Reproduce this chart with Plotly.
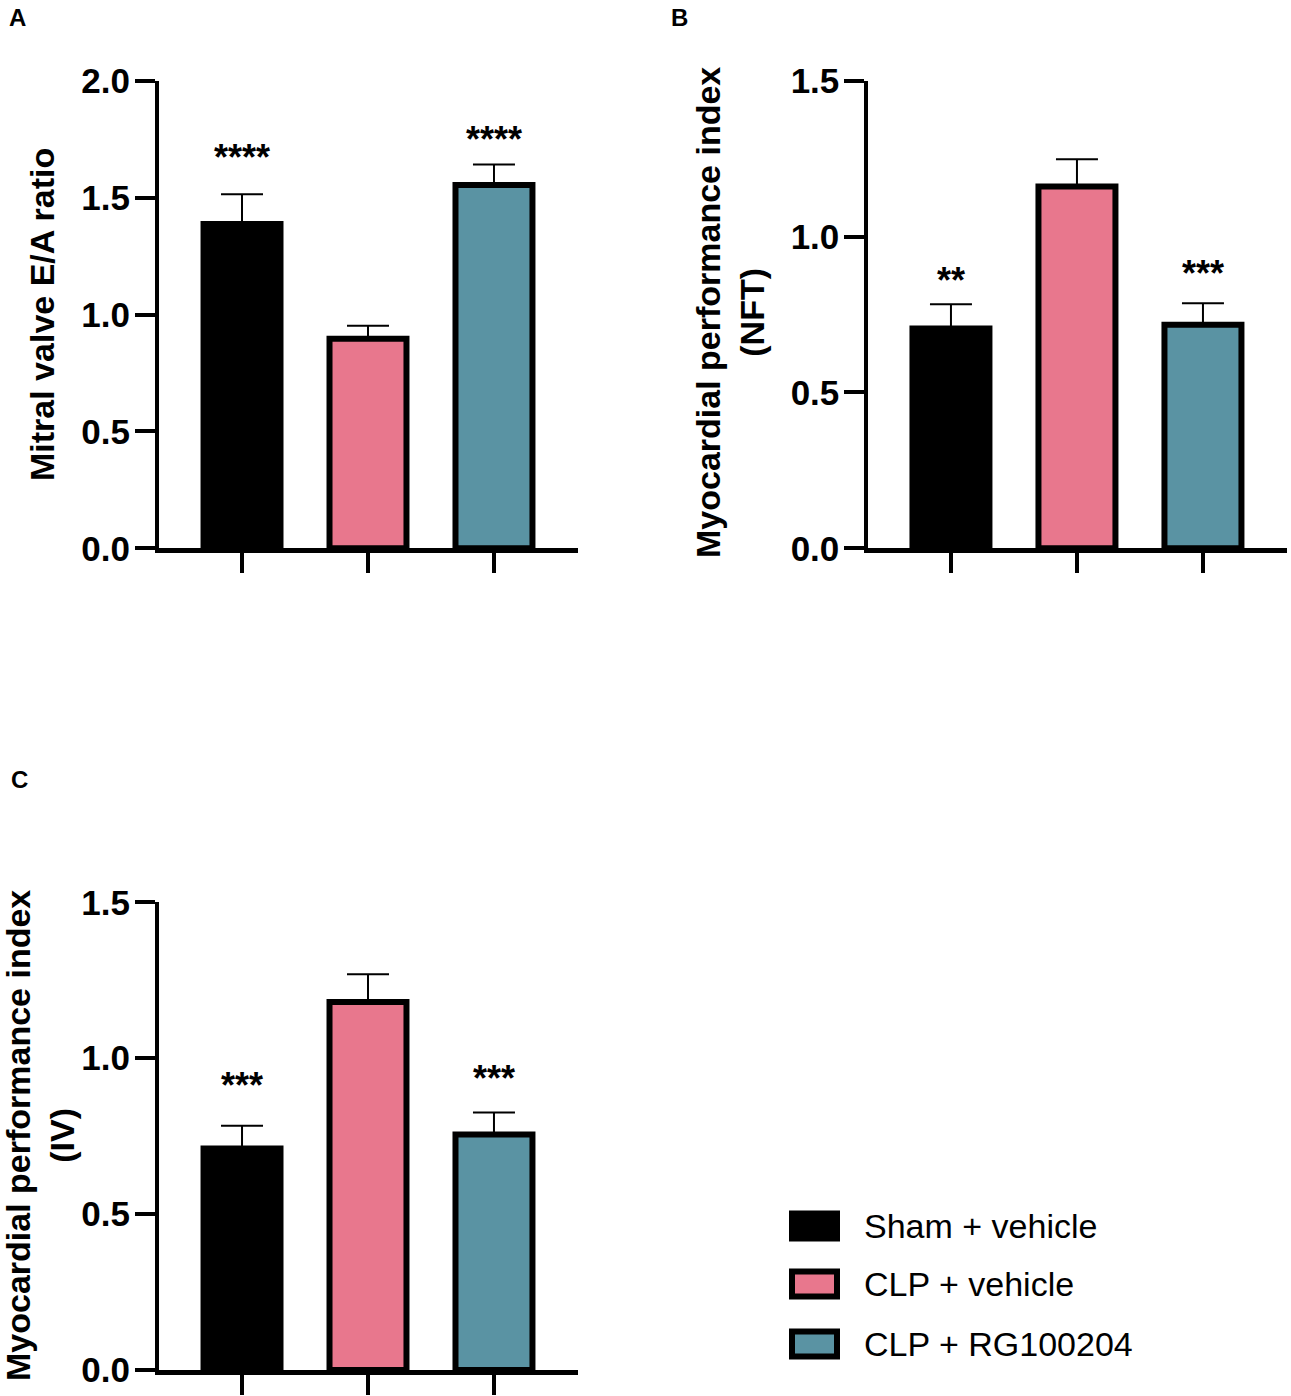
import plotly.graph_objects as go

W, H = 1291, 1396

groups = ["Sham + vehicle", "CLP + vehicle", "CLP + RG100204"]
colors = ["#000000", "#E8778D", "#5A93A3"]
xpos = [0, 1, 2]

# Panel A: Mitral valve E/A ratio
a_mean = [1.387, 0.896, 1.554]
a_sem = [0.127, 0.056, 0.088]
a_stars = ["****", "", "****"]
a_star_y = [1.70, None, 1.78]

# Panel B: Myocardial performance index (NFT)
b_mean = [0.705, 1.161, 0.717]
b_sem = [0.078, 0.087, 0.069]
b_stars = ["**", "", "***"]
b_star_y = [0.88, None, 0.903]

# Panel C: Myocardial performance index (IV)
c_mean = [0.710, 1.180, 0.755]
c_sem = [0.073, 0.089, 0.071]
c_stars = ["***", "", "***"]
c_star_y = [0.936, None, 0.957]

FONT = "Liberation Sans, Arial, Helvetica, sans-serif"

def px(x):
    return x / W

def py(y):
    return 1 - y / H

fig = go.Figure()

panels = [
    ("x", "y", a_mean, a_sem, a_stars, a_star_y),
    ("x2", "y2", b_mean, b_sem, b_stars, b_star_y),
    ("x3", "y3", c_mean, c_sem, c_stars, c_star_y),
]

for xa, ya, mean, sem, stars, sy in panels:
    fig.add_trace(go.Bar(
        x=xpos, y=mean, xaxis=xa, yaxis=ya,
        width=0.611,
        marker=dict(color=colors, line=dict(color="black", width=6)),
        error_y=dict(type="data", symmetric=False, array=sem,
                     arrayminus=[0, 0, 0], color="black", thickness=2, width=21),
        showlegend=False, hoverinfo="skip",
    ))
    for xi, s, yv in zip(xpos, stars, sy):
        if s:
            fig.add_annotation(x=xi, y=yv, xref=xa, yref=ya, text=s, showarrow=False,
                               xanchor="center", yanchor="middle", yshift=-7,
                               font=dict(family=FONT, size=36, color="black", weight="bold"))

def xaxis_cfg(dom, anchor, rng):
    return dict(domain=dom, anchor=anchor, range=rng, showline=True, linecolor="black",
                linewidth=5, ticks="outside", ticklen=20, tickwidth=4, tickcolor="black",
                tickvals=xpos, showticklabels=False, showgrid=False, zeroline=False,
                automargin=False, fixedrange=True)

def yaxis_cfg(dom, anchor, rng):
    return dict(domain=dom, anchor=anchor, range=rng, showline=True, linecolor="black",
                linewidth=4, ticks="outside", ticklen=20, tickwidth=4, tickcolor="black",
                dtick=0.5, tick0=0, tickformat=".1f", showgrid=False, zeroline=False,
                ticklabelstandoff=-2, automargin=False,
                tickfont=dict(family=FONT, size=35, color="black", weight="bold"),
                fixedrange=True)

xr = [-0.659, 2.667]
fig.update_layout(
    template="none",
    width=W, height=H, margin=dict(l=0, r=0, t=0, b=0, pad=0),
    paper_bgcolor="white", plot_bgcolor="white",
    xaxis=xaxis_cfg([px(159), px(578)], "y", xr),
    yaxis=yaxis_cfg([py(548.3), py(80.7)], "x", [0, 2.0]),
    xaxis2=xaxis_cfg([px(868.3), px(1287)], "y2", [-0.656, 2.667]),
    yaxis2=yaxis_cfg([py(548.3), py(80.7)], "x2", [0, 1.5]),
    xaxis3=xaxis_cfg([px(159), px(578)], "y3", xr),
    yaxis3=yaxis_cfg([py(1370), py(902.3)], "x3", [0, 1.5]),
)

title_font = dict(family=FONT, size=34, color="black", weight="bold")
fig.add_annotation(x=px(42), y=py(315), xref="paper", yref="paper",
                   text="Mitral valve E/A ratio", textangle=-90, showarrow=False,
                   xanchor="center", yanchor="middle", font=title_font)
fig.add_annotation(x=px(730), y=py(313), xref="paper", yref="paper",
                   text="Myocardial performance index<br>(NFT)", textangle=-90, showarrow=False,
                   xanchor="center", yanchor="middle", font=title_font)
fig.add_annotation(x=px(40), y=py(1136), xref="paper", yref="paper",
                   text="Myocardial performance index<br>(IV)", textangle=-90, showarrow=False,
                   xanchor="center", yanchor="middle", font=title_font)

letter_font = dict(family=FONT, size=24, color="black", weight="bold")
for t, lx, ly in [("A", 17, 17), ("B", 679, 17), ("C", 19, 779)]:
    fig.add_annotation(x=px(lx), y=py(ly), xref="paper", yref="paper", text=t,
                       showarrow=False, xanchor="center", yanchor="middle", font=letter_font)

# Legend (drawn manually to match the large swatches)
leg_rows = [1226, 1284, 1344]
for g, c, yc in zip(groups, colors, leg_rows):
    fig.add_shape(type="rect", xref="paper", yref="paper",
                  x0=px(792), x1=px(837), y0=py(yc + 12.5), y1=py(yc - 12.5),
                  fillcolor=c, line=dict(color="black", width=6))
    fig.add_annotation(x=px(862), y=py(yc), xref="paper", yref="paper", text=g,
                       showarrow=False, xanchor="left", yanchor="middle",
                       font=dict(family=FONT, size=34, color="black"))

fig.write_html("out.html", config={"displayModeBar": False},
               post_script="document.body.style.margin='0';")
